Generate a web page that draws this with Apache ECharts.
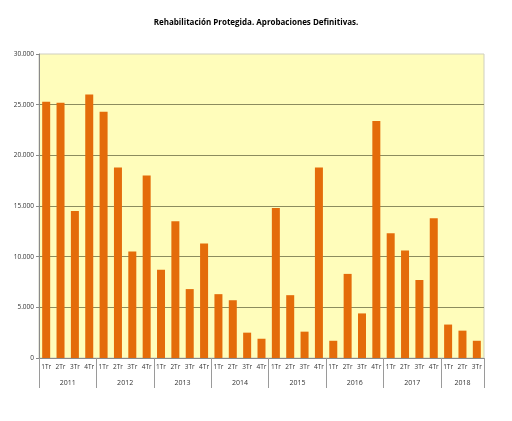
<!DOCTYPE html>
<html>
<head>
<meta charset="utf-8">
<script src="https://cdn.jsdelivr.net/npm/echarts@6/dist/echarts.min.js"></script>
<style>html,body{margin:0;padding:0;background:#fff;}#c{width:512px;height:421px;}</style>
</head>
<body>
<div id="c"></div>
<script>
const title = 'Rehabilitación Protegida. Aprobaciones Definitivas.';
const years = ['2011','2012','2013','2014','2015','2016','2017','2018'];
const quartersPerYear = [4,4,4,4,4,4,4,3];
const quarterLabels = [
  '1Tr','2Tr','3Tr','4Tr', '1Tr','2Tr','3Tr','4Tr', '1Tr','2Tr','3Tr','4Tr',
  '1Tr','2Tr','3Tr','4Tr', '1Tr','2Tr','3Tr','4Tr', '1Tr','2Tr','3Tr','4Tr',
  '1Tr','2Tr','3Tr','4Tr', '1Tr','2Tr','3Tr'
];
const approvals = [
  25300, 25200, 14500, 26000,
  24300, 18800, 10500, 18000,
  8700, 13500, 6800, 11300,
  6300, 5700, 2500, 1900,
  14800, 6200, 2600, 18800,
  1700, 8300, 4400, 23400,
  12300, 10600, 7700, 13800,
  3300, 2700, 1700
];
const yTicks = [0, 5000, 10000, 15000, 20000, 25000, 30000];

// helper axis in half-quarter steps for the year row
const nHalf = quarterLabels.length * 2 + 1;
const halfCats = [];
for (let i = 0; i < nHalf; i++) halfCats.push(String(i));
const yearLabelAt = {};
const yearTickAt = {};
let start = 0;
years.forEach((y, i) => {
  yearTickAt[2 * start] = true;
  yearLabelAt[2 * start + quartersPerYear[i]] = y;
  start += quartersPerYear[i];
});
yearTickAt[2 * start] = true;

function fmt(v) { return String(v).replace(/\B(?=(\d{3})+(?!\d))/g, '.'); }

const chart = echarts.init(document.getElementById('c'));
chart.setOption({
  animation: false,
  backgroundColor: '#ffffff',
  title: {
    text: title, left: 'center', top: 14,
    textStyle: { fontSize: 8, fontWeight: 'bold', color: '#000', fontFamily: 'Open Sans' }
  },
  grid: {
    left: 39, right: 28, top: 54, bottom: 63,
    show: true, backgroundColor: '#fffdbb', borderColor: '#cfcfbf', borderWidth: 1
  },
  xAxis: [
    {
      type: 'category', data: quarterLabels, position: 'bottom',
      axisLine: { lineStyle: { color: '#8a8a8a' } },
      axisTick: { interval: 0, length: 14, lineStyle: { color: '#9a9a9a' } },
      axisLabel: { interval: 0, margin: 6, fontSize: 6.5, color: '#333', fontFamily: 'Open Sans' }
    },
    {
      type: 'category', data: halfCats, position: 'bottom', boundaryGap: false,
      axisLine: { show: false },
      axisTick: { show: true, length: 30, interval: (i) => !!yearTickAt[i], lineStyle: { color: '#9a9a9a' } },
      axisLabel: { interval: (i) => yearLabelAt[i] !== undefined, margin: 21, fontSize: 7, color: '#333',
        fontFamily: 'Open Sans', formatter: (v, i) => yearLabelAt[i] || '' }
    }
  ],
  yAxis: {
    type: 'value', min: yTicks[0], max: yTicks[yTicks.length - 1], interval: 5000,
    axisLine: { show: true, lineStyle: { color: '#8a8a8a' } },
    axisTick: { show: true, length: 3, lineStyle: { color: '#8a8a8a' } },
    axisLabel: { fontSize: 6.5, color: '#333', margin: 5, fontFamily: 'Open Sans', formatter: fmt },
    splitLine: { show: true, showMaxLine: false, lineStyle: { color: '#8c8c5e', width: 1 } }
  },
  series: [{
    type: 'bar', data: approvals, xAxisIndex: 0, barWidth: 8,
    itemStyle: { color: '#e46c0a' }
  }]
});
</script>
</body>
</html>
